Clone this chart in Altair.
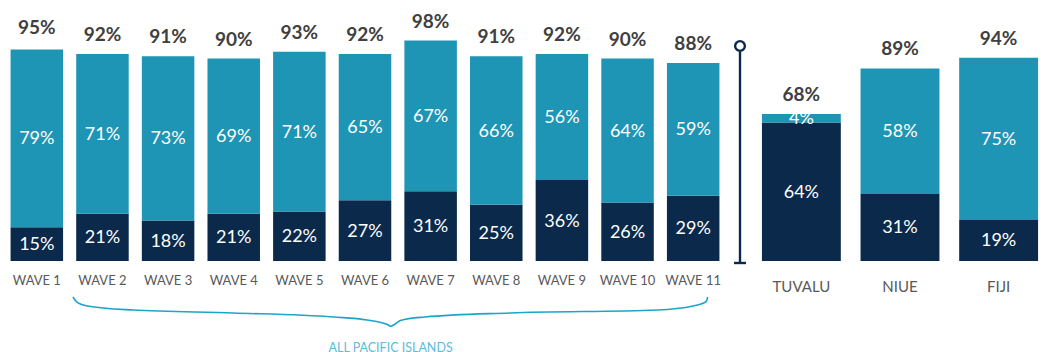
import altair as alt
import pandas as pd

# ---- data ----
waves = ["WAVE 1", "WAVE 2", "WAVE 3", "WAVE 4", "WAVE 5", "WAVE 6",
         "WAVE 7", "WAVE 8", "WAVE 9", "WAVE 10", "WAVE 11"]
wave_dark = [15, 21, 18, 21, 22, 27, 31, 25, 36, 26, 29]
wave_light = [79, 71, 73, 69, 71, 65, 67, 66, 56, 64, 59]
wave_total = [95, 92, 91, 90, 93, 92, 98, 91, 92, 90, 88]

countries = ["TUVALU", "NIUE", "FIJI"]
country_dark = [64, 31, 19]
country_light = [4, 58, 75]
country_total = [68, 89, 94]

brace_label = "ALL PACIFIC ISLANDS"
# brace outline, x in wave-slot units (0..11), y in the percent scale units (below baseline)
brace_u = [1.05, 1.12, 1.27, 1.97, 3.49, 5.02, 5.53, 5.84, 5.89, 5.95, 6.04, 6.41, 7.71, 9.95, 10.5, 10.7, 10.72]
brace_v = [-16.0, -18.5, -20.0, -21.8, -23.1, -24.9, -26.2, -28.2, -29.0, -28.2, -26.4, -24.9, -23.1, -21.8, -20.0, -18.0, -16.0]

DARK = "#0B2A4B"
TEAL = "#1F95B5"
GREY = "#595959"
TOTAL_C = "#404040"
BRACE_C = "#1AA6CB"
FONT = "Lato"

H = 225


def build_df(cats, dark, light, total):
    rows = []
    for i, c in enumerate(cats):
        rows.append({"cat": c, "seg": "a", "y0": 0, "y1": dark[i], "mid": dark[i] / 2,
                     "lab": f"{dark[i]}%", "order": i, "total": total[i], "tlab": f"{total[i]}%"})
        rows.append({"cat": c, "seg": "b", "y0": dark[i], "y1": dark[i] + light[i],
                     "mid": dark[i] + light[i] / 2, "lab": f"{light[i]}%", "order": i,
                     "total": total[i], "tlab": f"{total[i]}%"})
    return pd.DataFrame(rows)


def panel(cats, dark, light, total, width, ymax, label_size, label_pad, tsize):
    df = build_df(cats, dark, light, total)
    xscale = alt.Scale(paddingInner=0.2, paddingOuter=0.05 if width < 400 else 0.1)
    xenc = alt.X("cat:N", sort=cats, scale=xscale,
                 axis=alt.Axis(title=None, domain=False, ticks=False, labelAngle=0,
                               labelFont=FONT, labelFontSize=label_size, labelColor=GREY,
                               labelPadding=label_pad))
    yscale = alt.Scale(domain=[0, ymax], nice=False)
    base = alt.Chart(df)
    bars = base.mark_bar().encode(
        x=xenc,
        y=alt.Y("y0:Q", scale=yscale, axis=None),
        y2="y1:Q",
        color=alt.Color("seg:N", scale=alt.Scale(domain=["a", "b"], range=[DARK, TEAL]), legend=None),
    )
    inner = base.mark_text(color="white", font=FONT, fontSize=18, baseline="middle", dy=1).encode(
        x=alt.X("cat:N", sort=cats, scale=xscale),
        y=alt.Y("mid:Q", scale=yscale, axis=None),
        text="lab:N",
    )
    tot = base.transform_filter(alt.datum.seg == "a").mark_text(
        color=TOTAL_C, font=FONT, fontSize=tsize, fontWeight="bold", baseline="alphabetic", dy=-13
    ).encode(
        x=alt.X("cat:N", sort=cats, scale=xscale),
        y=alt.Y("total:Q", scale=yscale, axis=None),
        text="tlab:N",
    )
    return alt.layer(bars, inner, tot)


bars_left = panel(waves, wave_dark, wave_light, wave_total, 722, 100, 13, 13, 19)

bscale_x = alt.Scale(domain=[0, 11], nice=False, zero=False)
bscale_y = alt.Scale(domain=[0, 100], nice=False)
brace_df = pd.DataFrame({"u": brace_u, "v": brace_v})
brace = alt.Chart(brace_df).mark_line(color=BRACE_C, strokeWidth=1.6, interpolate="monotone").encode(
    x=alt.X("u:Q", scale=bscale_x, axis=None),
    y=alt.Y("v:Q", scale=bscale_y, axis=None),
)
brace_txt = alt.Chart(pd.DataFrame({"u": [5.89], "v": [-38.8], "t": [brace_label]})).mark_text(
    color="#5BBCDC", font=FONT, fontSize=12.5, baseline="middle"
).encode(
    x=alt.X("u:Q", scale=bscale_x, axis=None),
    y=alt.Y("v:Q", scale=bscale_y, axis=None),
    text="t:N",
)
brace_layer = alt.layer(brace, brace_txt)

sep_line = alt.Chart(pd.DataFrame({"a": [0]})).mark_rule(color=DARK, strokeWidth=2.4).encode(
    x=alt.value(736), y=alt.value(15.5), y2=alt.value(227)
)
sep_tick = alt.Chart(pd.DataFrame({"a": [0]})).mark_rule(color=DARK, strokeWidth=2.4).encode(
    x=alt.value(730), x2=alt.value(742), y=alt.value(227)
)
sep_circle = alt.Chart(pd.DataFrame({"a": [0]})).mark_point(
    shape="circle", size=95, color=DARK, fill="white", filled=False, strokeWidth=2.4, opacity=1
).encode(x=alt.value(736), y=alt.value(10))

left = alt.layer(bars_left, brace_layer, sep_line, sep_tick, sep_circle).resolve_scale(
    x="independent"
).properties(width=722, height=H)

right = panel(countries, country_dark, country_light, country_total, 286, 104, 15, 18, 19).properties(
    width=286, height=H
)

chart = alt.hconcat(left, right, spacing=31, bounds="flush").properties(
    padding={"top": 12, "left": 4, "right": 0, "bottom": 0}
).configure(background="white").configure_view(stroke="transparent", strokeWidth=0)

chart.save("out.html", embed_options={"renderer": "svg", "actions": False})
